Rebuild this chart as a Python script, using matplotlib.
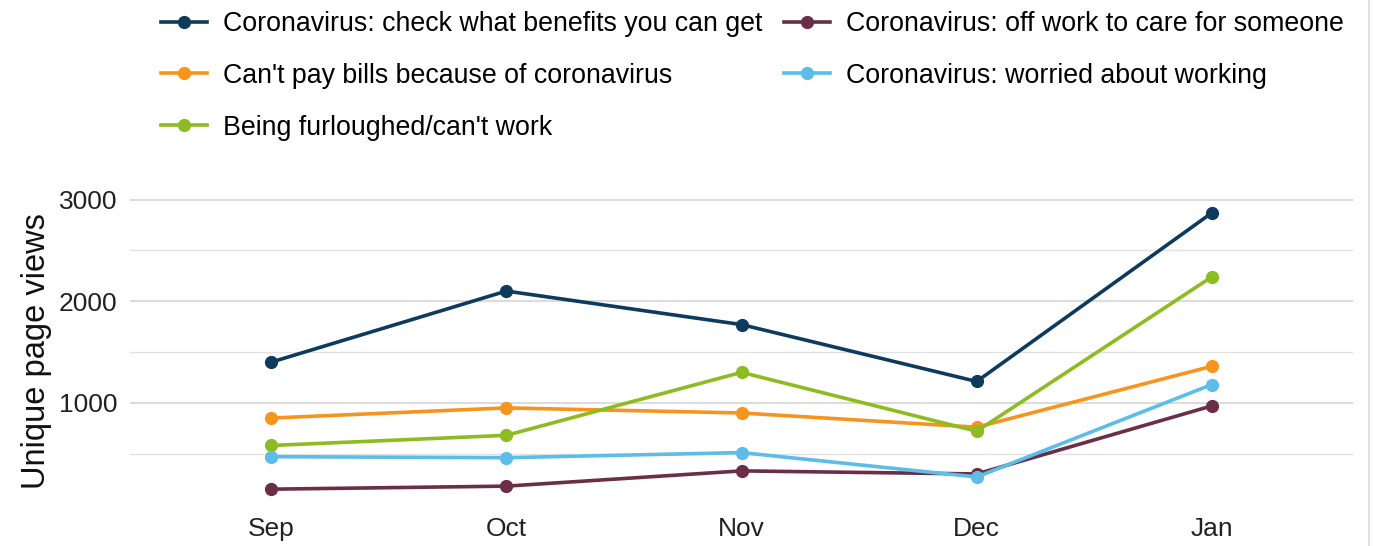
import matplotlib.pyplot as plt
from matplotlib.lines import Line2D
from matplotlib.ticker import MultipleLocator

plt.rcParams['font.family'] = ['Liberation Sans', 'DejaVu Sans']

# data
months = ["Sep", "Oct", "Nov", "Dec", "Jan"]
benefits = [1400, 2100, 1770, 1210, 2870]
bills = [850, 950, 900, 760, 1360]
furloughed = [580, 680, 1300, 720, 2240]
off_work = [150, 180, 330, 300, 970]
worried = [470, 460, 510, 270, 1180]

series = [
    ("Coronavirus: check what benefits you can get", benefits, "#0e3b5c"),
    ("Can't pay bills because of coronavirus", bills, "#f7941d"),
    ("Being furloughed/can't work", furloughed, "#8cbc21"),
    ("Coronavirus: off work to care for someone", off_work, "#6b2e46"),
    ("Coronavirus: worried about working", worried, "#5bbde8"),
]

fig = plt.figure(figsize=(13.73, 5.46), dpi=100)
ax = fig.add_axes([130 / 1373, 1 - 503 / 546, (1353 - 130) / 1373, (503 - 199) / 546])

x = range(len(months))
handles = []
for label, vals, col in series:
    h, = ax.plot(x, vals, color=col, lw=2.6, marker='o', ms=8.5, label=label)
    handles.append(h)

ax.set_xlim(-0.6, 4.6)
ax.set_ylim(14, 3006)
ax.set_xticks(list(x))
ax.set_xticklabels(months)
ax.yaxis.set_major_locator(MultipleLocator(1000))
ax.yaxis.set_minor_locator(MultipleLocator(500))
ax.grid(axis='y', which='major', color='#dcdcdc', lw=1.4)
ax.grid(axis='y', which='minor', color='#e2e2e2', lw=1.0)
ax.set_axisbelow(True)
for s in ax.spines.values():
    s.set_visible(False)
ax.tick_params(axis='both', which='both', length=0, labelsize=19, colors='#222222')
ax.tick_params(axis='x', pad=10)
ax.tick_params(axis='y', pad=9)
ax.set_ylabel("Unique page views", fontsize=23.5, color='#111111', labelpad=5)

fig.legend(handles=handles, ncol=2, loc='upper left',
           bbox_to_anchor=(137 / 1373, 1 + 13 / 546), frameon=False,
           fontsize=19.3, handlelength=1.7, handletextpad=0.6,
           labelspacing=0.96, columnspacing=0.82)

fig.add_artist(Line2D([1369 / 1373] * 2, [0, 1], color='#dddddd', lw=1.2))

fig.savefig("out.png", dpi=100)
